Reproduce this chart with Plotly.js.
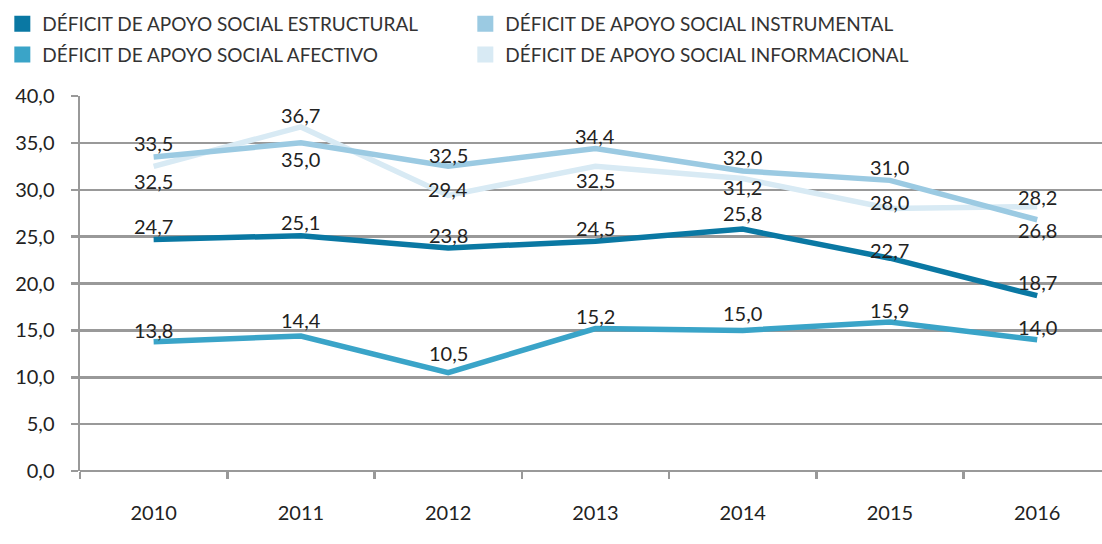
<!DOCTYPE html>
<html>
<head>
<meta charset="utf-8">
<script src="https://cdn.plot.ly/plotly-3.0.1.min.js"></script>
<style>html,body{margin:0;padding:0;background:#fff;}#chart{width:1102px;height:544px;}</style>
</head>
<body>
<div id="chart"></div>
<script>
const years = ['2010','2011','2012','2013','2014','2015','2016'];
const seriesNames = [
  'DÉFICIT DE APOYO SOCIAL ESTRUCTURAL',
  'DÉFICIT DE APOYO SOCIAL INSTRUMENTAL',
  'DÉFICIT DE APOYO SOCIAL AFECTIVO',
  'DÉFICIT DE APOYO SOCIAL INFORMACIONAL'
];
const estructural = [24.7, 25.1, 23.8, 24.5, 25.8, 22.7, 18.7];
const instrumental = [33.5, 35.0, 32.5, 34.4, 32.0, 31.0, 26.8];
const afectivo = [13.8, 14.4, 10.5, 15.2, 15.0, 15.9, 14.0];
const informacional = [32.5, 36.7, 29.4, 32.5, 31.2, 28.0, 28.2];
const yTicks = [0, 5, 10, 15, 20, 25, 30, 35, 40];

// styling: colours and label pixel offsets (positive = above the line)
const colors = ['#0a78a3', '#9bcae2', '#3aa4c8', '#d8eaf4'];
const labelShift = [
  [13, 14, 13, 13, 16, 8, 14],
  [14, -16, 11, 13, 14, 13, -10],
  [12, 16, 20, 13, 17, 12, 13],
  [-15, 12, 6, -14, -8, 7, 10]
];
const values = [estructural, instrumental, afectivo, informacional];
const xs = years.map((_, i) => i);
const fmt = v => v.toFixed(1).replace('.', ',');

const traces = [];
[3, 1, 0, 2].forEach(k => {
  traces.push({
    type: 'scatter', mode: 'lines', x: xs, y: values[k],
    line: {color: colors[k], width: 5.5},
    showlegend: false, hoverinfo: 'skip'
  });
});
const legendOf = ['legend', 'legend', 'legend2', 'legend2'];
[0, 1, 2, 3].forEach(k => {
  traces.push({
    type: 'scatter', mode: 'markers', x: [null], y: [null],
    name: seriesNames[k], legend: legendOf[k],
    marker: {symbol: 'square', size: 16, color: colors[k]},
    showlegend: true
  });
});

const annotations = [];
values.forEach((arr, k) => {
  arr.forEach((v, i) => {
    annotations.push({
      x: xs[i], y: v, xref: 'x', yref: 'y', text: fmt(v), showarrow: false,
      yshift: labelShift[k][i], xanchor: 'center', yanchor: 'middle',
      font: {family: 'Lato, sans-serif', size: 20, color: '#222'}
    });
  });
});

const legendBase = {
  orientation: 'h', x: -0.076, xanchor: 'left', yanchor: 'middle',
  entrywidth: 418, entrywidthmode: 'pixels',
  font: {size: 19, color: '#333', family: 'Lato, sans-serif'}, itemwidth: 30,
  bgcolor: 'rgba(0,0,0,0)'
};

const layout = {
  width: 1102, height: 544,
  margin: {l: 80, r: 0, t: 96, b: 73},
  paper_bgcolor: '#fff', plot_bgcolor: '#fff',
  separators: ',.',
  font: {family: 'Lato, sans-serif', color: '#333'},
  showlegend: true,
  legend: Object.assign({}, legendBase, {y: 1.192}),
  legend2: Object.assign({}, legendBase, {y: 1.110}),
  annotations: annotations,
  xaxis: {
    range: [-0.5, 6.44], tickmode: 'array', tickvals: xs, ticktext: years,
    ticks: '', showgrid: false, zeroline: false, showline: false,
    tickfont: {size: 20, color: '#222'}, ticklabelstandoff: 28,
    minor: {tickmode: 'array', tickvals: [-0.5, 0.5, 1.5, 2.5, 3.5, 4.5, 5.5],
            ticks: 'outside', ticklen: 7, tickwidth: 2.5, tickcolor: '#999', showgrid: false},
    fixedrange: true
  },
  yaxis: {
    range: [0, 40], tickmode: 'array', tickvals: yTicks,
    tickformat: '.1f', ticks: 'outside', ticklen: 7, tickwidth: 2.5, tickcolor: '#999',
    showgrid: true, gridcolor: '#999', gridwidth: 2.5,
    zeroline: true, zerolinecolor: '#999', zerolinewidth: 2.5,
    showline: true, linecolor: '#999', linewidth: 2.5,
    tickfont: {size: 20, color: '#222'}, ticklabelstandoff: 12,
    fixedrange: true
  }
};

Plotly.newPlot('chart', traces, layout, {displayModeBar: false, staticPlot: true});
</script>
</body>
</html>
